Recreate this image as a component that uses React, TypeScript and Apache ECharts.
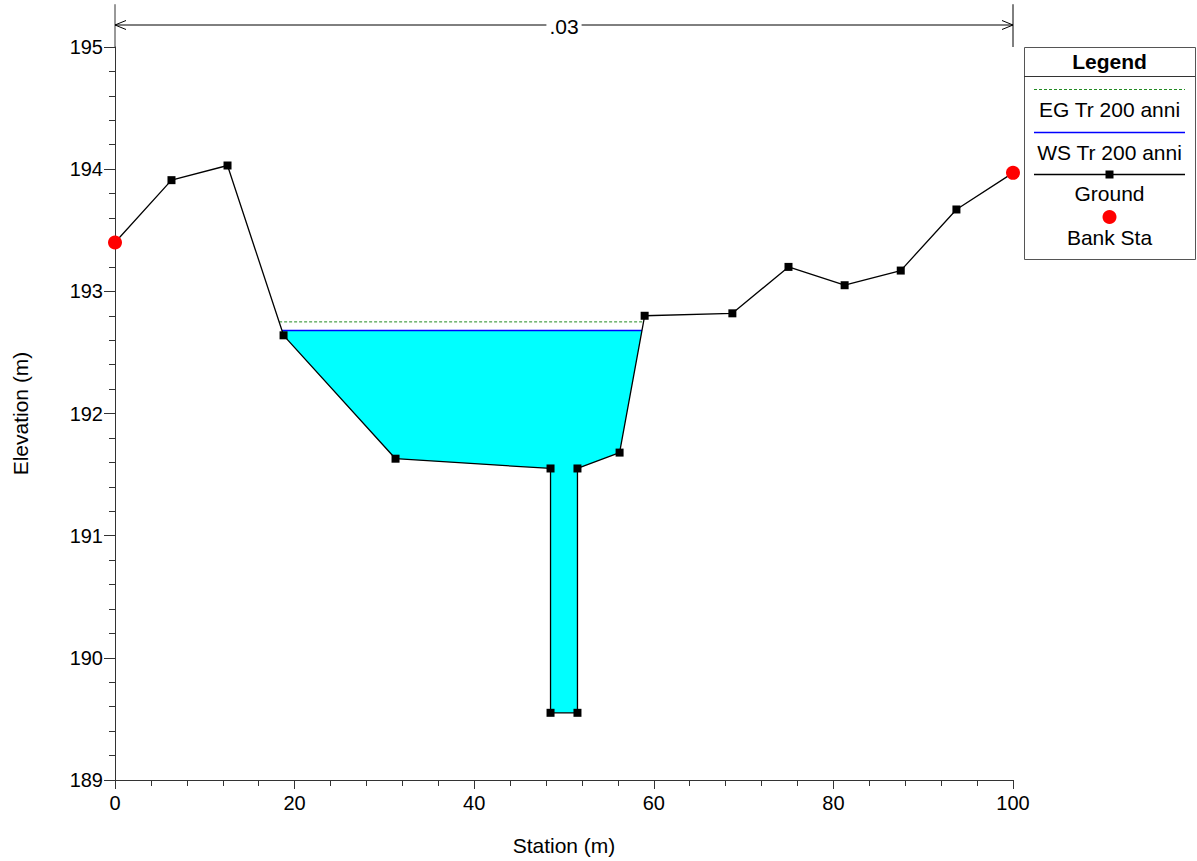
import React, { useEffect, useRef } from "react";
import * as echarts from "echarts";

// ---- data ----
const STATION = [0, 6.29, 12.53, 18.77, 31.24, 48.5, 48.5, 51.5, 51.5, 56.19, 58.98, 68.75, 75.0, 81.25, 87.5, 93.7, 100];
const ELEVATION = [193.4, 193.91, 194.03, 192.64, 191.63, 191.55, 189.55, 189.55, 191.55, 191.68, 192.8, 192.82, 193.2, 193.05, 193.17, 193.67, 193.97];
const BANK_STATION = [0, 100];
const BANK_ELEVATION = [193.4, 193.97];
const WS_ELEV = 192.68;
const EG_ELEV = 192.75;
const N_LABEL = ".03";
const N_LEVEL = 195.18;
const AXIS_TOP = 195.35;
const X_TICKS = { min: 0, max: 100, interval: 20 };
const Y_TICKS = { min: 189, max: 195, interval: 1 };

const FONT = "'Liberation Sans', Arial, sans-serif";
const EG_COLOR = "#228b22";

// find the wetted extent for a level (crossings around the channel low point)
function crossings(level: number) {
  let minI = 0;
  ELEVATION.forEach((e, i) => { if (e < ELEVATION[minI]) minI = i; });
  let l = minI;
  while (l > 0 && ELEVATION[l - 1] < level) l--;
  let r = minI;
  while (r < ELEVATION.length - 1 && ELEVATION[r + 1] < level) r++;
  const interp = (a: number, b: number) => {
    const t = (level - ELEVATION[a]) / (ELEVATION[b] - ELEVATION[a]);
    return STATION[a] + t * (STATION[b] - STATION[a]);
  };
  const lx = l > 0 ? interp(l - 1, l) : STATION[0];
  const rx = r < ELEVATION.length - 1 ? interp(r, r + 1) : STATION[STATION.length - 1];
  return { l, r, lx, rx };
}

const ws = crossings(WS_ELEV);
const eg = crossings(EG_ELEV);
const waterPoly: number[][] = [[ws.lx, WS_ELEV]];
for (let i = ws.l; i <= ws.r; i++) waterPoly.push([STATION[i], ELEVATION[i]]);
waterPoly.push([ws.rx, WS_ELEV]);

export default function App() {
  const ref = useRef<HTMLDivElement>(null);
  useEffect(() => {
    if (!ref.current) return;
    const chart = echarts.init(ref.current, null, { renderer: "svg" });
    const axisColor = "#333";
    const axisCommon = {
      type: "value",
      splitLine: { show: false },
      minorSplitLine: { show: false },
      axisLine: { show: true, onZero: false, lineStyle: { color: axisColor, width: 1 } },
      axisLabel: { color: "#000", fontSize: 20, fontFamily: FONT },
      nameTextStyle: { color: "#000", fontSize: 21, fontFamily: FONT },
      nameLocation: "middle",
    };
    const legendX = 1024, legendW = 171, legendY = 47, legendH = 212;
    const cx = legendX + legendW / 2;
    const lt = (text: string, y: number, bold = false) => ({
      type: "text",
      x: cx,
      y,
      style: {
        text,
        fill: "#000",
        font: `${bold ? "bold " : ""}21px ${FONT}`,
        align: "center",
        verticalAlign: "middle",
      },
      z: 101,
    });
    chart.setOption({
      animation: false,
      backgroundColor: "#fff",
      grid: { left: 115, right: 184, top: 47, bottom: 81, containLabel: false },
      xAxis: {
        ...axisCommon,
        ...X_TICKS,
        name: "Station (m)",
        nameGap: 55,
        axisTick: { show: true, length: 9, lineStyle: { color: axisColor } },
        minorTick: { show: true, splitNumber: 5, length: 6, lineStyle: { color: axisColor } },
        axisLabel: { ...axisCommon.axisLabel, margin: 13 },
      },
      yAxis: {
        ...axisCommon,
        ...Y_TICKS,
        name: "Elevation (m)",
        nameGap: 84,
        axisTick: { show: true, length: 11, lineStyle: { color: axisColor } },
        minorTick: { show: true, splitNumber: 5, length: 6, lineStyle: { color: axisColor } },
        axisLabel: { ...axisCommon.axisLabel, margin: 12 },
      },
      series: [
        {
          type: "custom",
          name: "Water",
          z: 1,
          clip: false,
          data: [[0, 0]],
          renderItem: (params: any, api: any) => ({
            type: "polygon",
            shape: { points: waterPoly.map((p) => api.coord(p)) },
            style: { fill: "#00ffff", stroke: "none" },
          }),
        },
        {
          type: "line",
          name: "EG Tr 200 anni",
          z: 2,
          data: [[eg.lx, EG_ELEV], [eg.rx, EG_ELEV]],
          showSymbol: false,
          symbol: "none",
          lineStyle: { color: EG_COLOR, width: 1, type: [3, 2] },
        },
        {
          type: "line",
          name: "WS Tr 200 anni",
          z: 3,
          data: [[ws.lx, WS_ELEV], [ws.rx, WS_ELEV]],
          showSymbol: false,
          symbol: "none",
          lineStyle: { color: "#0000ff", width: 1.5 },
        },
        {
          type: "line",
          name: "Ground",
          z: 4,
          clip: false,
          data: STATION.map((s, i) => [s, ELEVATION[i]]),
          symbol: "rect",
          symbolSize: 8,
          itemStyle: { color: "#000" },
          lineStyle: { color: "#000", width: 1.3 },
        },
        {
          type: "scatter",
          name: "Bank Sta",
          z: 5,
          clip: false,
          data: BANK_STATION.map((s, i) => [s, BANK_ELEVATION[i]]),
          symbol: "circle",
          symbolSize: 14,
          itemStyle: { color: "#ff0000", opacity: 1 },
        },
        {
          type: "custom",
          name: "Manning n",
          z: 6,
          clip: false,
          data: [[0, 0]],
          renderItem: (params: any, api: any) => {
            const a = api.coord([X_TICKS.min, N_LEVEL]);
            const b = api.coord([X_TICKS.max, N_LEVEL]);
            const t0 = api.coord([X_TICKS.min, AXIS_TOP]);
            const b0 = api.coord([X_TICKS.min, Y_TICKS.max]);
            const t1 = api.coord([X_TICKS.max, AXIS_TOP]);
            const b1 = api.coord([X_TICKS.max, Y_TICKS.max]);
            const m = api.coord([(X_TICKS.min + X_TICKS.max) / 2, N_LEVEL]);
            const ls = { stroke: "#000", lineWidth: 1, fill: "none" };
            return {
              type: "group",
              children: [
                { type: "line", shape: { x1: t0[0], y1: t0[1], x2: b0[0], y2: b0[1] }, style: { stroke: axisColor, lineWidth: 1 } },
                { type: "line", shape: { x1: t1[0], y1: t1[1], x2: b1[0], y2: b1[1] }, style: ls },
                { type: "line", shape: { x1: a[0], y1: a[1], x2: b[0], y2: b[1] }, style: ls },
                { type: "polyline", shape: { points: [[a[0] + 11, a[1] - 4.5], [a[0], a[1]], [a[0] + 11, a[1] + 4.5]] }, style: ls },
                { type: "polyline", shape: { points: [[b[0] - 11, b[1] - 4.5], [b[0], b[1]], [b[0] - 11, b[1] + 4.5]] }, style: ls },
                {
                  type: "text",
                  x: m[0],
                  y: m[1] + 1,
                  style: {
                    text: N_LABEL,
                    fill: "#000",
                    font: `21px ${FONT}`,
                    align: "center",
                    verticalAlign: "middle",
                    backgroundColor: "#fff",
                    padding: [0, 3],
                  },
                },
              ],
            };
          },
        },
      ],
      graphic: [
        {
          type: "rect",
          shape: { x: legendX + 0.5, y: legendY + 0.5, width: legendW, height: legendH },
          style: { fill: "#fff", stroke: "#555", lineWidth: 1 },
          z: 100,
        },
        {
          type: "line",
          shape: { x1: legendX, y1: 76.5, x2: legendX + legendW, y2: 76.5 },
          style: { stroke: "#333", lineWidth: 1 },
          z: 101,
        },
        lt("Legend", 61, true),
        {
          type: "line",
          shape: { x1: 1034, y1: 89.5, x2: 1185, y2: 89.5 },
          style: { stroke: EG_COLOR, lineWidth: 1, lineDash: [3, 2] },
          z: 101,
        },
        lt("EG Tr 200 anni", 109),
        {
          type: "line",
          shape: { x1: 1034, y1: 132.5, x2: 1185, y2: 132.5 },
          style: { stroke: "#0000ff", lineWidth: 1.5 },
          z: 101,
        },
        lt("WS Tr 200 anni", 152),
        {
          type: "line",
          shape: { x1: 1034, y1: 174.5, x2: 1185, y2: 174.5 },
          style: { stroke: "#000", lineWidth: 1.3 },
          z: 101,
        },
        {
          type: "rect",
          shape: { x: cx - 4, y: 170.5, width: 8, height: 8 },
          style: { fill: "#000" },
          z: 102,
        },
        lt("Ground", 193),
        {
          type: "circle",
          shape: { cx: cx, cy: 217, r: 7 },
          style: { fill: "#ff0000" },
          z: 101,
        },
        lt("Bank Sta", 237),
      ],
    });
    return () => chart.dispose();
  }, []);
  return (
    <div
      ref={ref}
      style={{ position: "fixed", left: 0, top: 0, width: 1197, height: 861, background: "#fff" }}
    />
  );
}
